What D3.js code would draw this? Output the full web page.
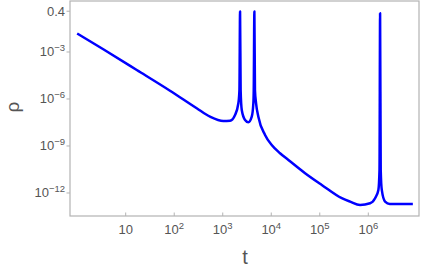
<!DOCTYPE html>
<html lang="en">
<head>
    <meta charset="UTF-8">
    <title>rho vs t</title>
    <script src="https://d3js.org/d3.v7.min.js"></script>
    <style>
        body { margin: 0; background: #fff; }
    </style>
</head>
<body>

<div id="chart"></div>

<script>
    // Values (t, rho)
    const tValues = [
        1.0, 3.45, 16.9, 81.8, 291, 547, 1028, 1416, 1795, 2099,
        2208, 2275, 2339, 2466, 2884, 3373, 3963, 4276, 4355, 4487,
        4613, 4864, 5420, 7447, 10230, 15170, 22540, 49770, 109900, 284400,
        421700, 677500, 1.089e6, 1.380e6, 1.614e6, 1.702e6, 1.750e6, 1.803e6, 1.897e6, 2.218e6,
        2.775e6, 8.28e6
    ];
    const rhoValues = [
        1.52e-2, 1.49e-3, 7.10e-5, 3.39e-6, 2.55e-7, 7.43e-8, 3.95e-8, 4.13e-8, 9.55e-8, 5.32e-7,
        3.76e-6, 0.38, 3.76e-6, 1.99e-7, 4.58e-8, 3.27e-8, 7.43e-8, 5.32e-7, 3.76e-6, 0.38,
        3.76e-6, 5.32e-7, 7.43e-8, 5.05e-9, 1.16e-9, 3.43e-10, 1.28e-10, 1.82e-11, 3.25e-12, 4.61e-13,
        2.80e-13, 1.72e-13, 2.21e-13, 4.61e-13, 1.56e-12, 2.95e-11, 0.30, 2.95e-11, 1.56e-12, 2.80e-13,
        2.0e-13, 2.0e-13
    ];

    // Tick values and labels: [base, superscript]
    const xTicks = [1e1, 1e2, 1e3, 1e4, 1e5, 1e6];
    const xTickLabels = [["10", ""], ["10", "2"], ["10", "3"], ["10", "4"], ["10", "5"], ["10", "6"]];
    const yTicks = [0.4, 1e-3, 1e-6, 1e-9, 1e-12];
    const yTickLabels = [["0.4", ""], ["10", "\u22123"], ["10", "\u22126"], ["10", "\u22129"], ["10", "\u221212"]];

    const width = 421;
    const height = 271;
    const mLeft = 70, mRight = 419, mTop = 1, mBottom = 216;

    const svg = d3.select("#chart")
        .append("svg")
        .attr("width", width)
        .attr("height", height)
        .style("font-family", "'Liberation Sans', Arial, sans-serif");

    const x = d3.scaleLog()
        .domain([Math.pow(10, -0.148), Math.pow(10, 7.045)])
        .range([mLeft, mRight]);

    const y = d3.scaleLog()
        .domain([Math.pow(10, -13.47), Math.pow(10, 0.255)])
        .range([mBottom, mTop]);

    const data = tValues.map((t, i) => ({ t: t, rho: rhoValues[i] }));

    // Frame
    svg.append("rect")
        .attr("x", mLeft)
        .attr("y", mTop)
        .attr("width", mRight - mLeft)
        .attr("height", mBottom - mTop)
        .attr("fill", "none")
        .attr("stroke", "#b3b3b3")
        .attr("stroke-width", 1.2);

    // Curve
    const line = d3.line()
        .x(d => x(d.t))
        .y(d => y(d.rho))
        .curve(d3.curveMonotoneX);

    svg.append("path")
        .datum(data)
        .attr("d", line)
        .attr("fill", "none")
        .attr("stroke", "#0000ff")
        .attr("stroke-width", 2.5)
        .attr("stroke-linejoin", "round");

    // x ticks (pointing into the frame)
    const xg = svg.append("g");
    xTicks.forEach((v, i) => {
        const px = x(v);
        xg.append("line")
            .attr("x1", px).attr("x2", px)
            .attr("y1", mBottom).attr("y2", mBottom - 3.5)
            .attr("stroke", "#b3b3b3");
        const txt = xg.append("text")
            .attr("x", px)
            .attr("y", mBottom + 18)
            .attr("text-anchor", "middle")
            .attr("fill", "#555")
            .style("font-size", "13px");
        txt.append("tspan").text(xTickLabels[i][0]);
        if (xTickLabels[i][1]) {
            txt.append("tspan")
                .attr("dy", -5)
                .style("font-size", "9.5px")
                .text(xTickLabels[i][1]);
        }
    });

    // y ticks (pointing out of the frame)
    const yg = svg.append("g");
    yTicks.forEach((v, i) => {
        const py = y(v);
        yg.append("line")
            .attr("x1", mLeft - 3.5).attr("x2", mLeft)
            .attr("y1", py).attr("y2", py)
            .attr("stroke", "#b3b3b3");
        const txt = yg.append("text")
            .attr("x", mLeft - 5)
            .attr("y", py + 4.5)
            .attr("text-anchor", "end")
            .attr("fill", "#555")
            .style("font-size", "13px");
        txt.append("tspan").text(yTickLabels[i][0]);
        if (yTickLabels[i][1]) {
            txt.append("tspan")
                .attr("dy", -5)
                .style("font-size", "9.5px")
                .text(yTickLabels[i][1]);
        }
    });

    // Axis labels
    svg.append("text")
        .attr("x", 245)
        .attr("y", 264)
        .attr("text-anchor", "middle")
        .attr("fill", "#555")
        .style("font-size", "20px")
        .text("t");

    svg.append("text")
        .attr("transform", "translate(19,107) rotate(-90)")
        .attr("text-anchor", "middle")
        .attr("fill", "#555")
        .style("font-size", "19px")
        .text("\u03c1");
</script>

</body>
</html>
